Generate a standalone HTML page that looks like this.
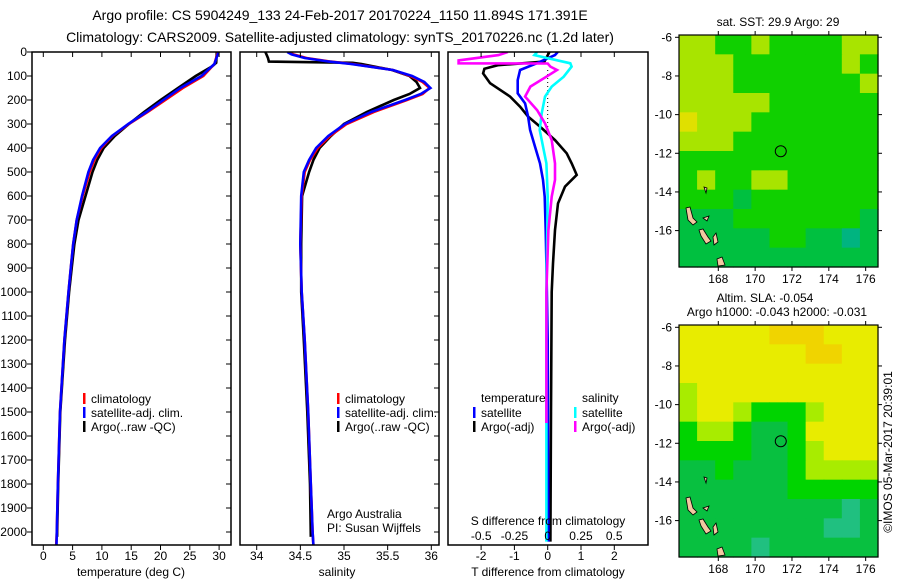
<!DOCTYPE html>
<html><head><meta charset="utf-8">
<style>
html,body{margin:0;padding:0;background:#fff;}
svg{display:block;font-family:"Liberation Sans",sans-serif;}
</style></head>
<body>
<svg id="fig" width="900" height="580" viewBox="0 0 900 580" xmlns="http://www.w3.org/2000/svg">
<defs>
<clipPath id="c1"><rect x="32" y="52" width="199" height="493"/></clipPath>
<clipPath id="c2"><rect x="240" y="52" width="199" height="493"/></clipPath>
<clipPath id="c3"><rect x="448" y="52" width="200" height="493"/></clipPath>
</defs>
<text x="340" y="20" font-size="14" text-anchor="middle">Argo profile: CS 5904249_133 24-Feb-2017 20170224_1150 11.894S 171.391E</text>
<text x="340" y="42" font-size="14" text-anchor="middle">Climatology: CARS2009. Satellite-adjusted climatology: synTS_20170226.nc (1.2d later)</text>
<g id="g1"></g>
<g id="g2"></g>
<g id="g3"></g>
<g id="m1"></g>
<g id="m2"></g>
<text transform="translate(892,452) rotate(-90)" font-size="12" text-anchor="middle">©IMOS 05-Mar-2017 20:39:01</text>
</svg>
<script>
// ---- profile data ----
const depthClimT = [0,50,100,150,200,250,300,350,400,450,500,600,700,800,900,1000,1200,1500,1800,2000,2055];
const climT = [29.8,29.2,27.3,23.8,20.8,17.8,14.6,11.8,9.9,8.7,7.9,6.7,5.7,5.1,4.7,4.3,3.6,2.85,2.5,2.3,2.2];
const satT = [29.9,29.2,27.0,23.4,20.5,17.6,14.5,11.7,9.7,8.5,7.7,6.6,5.7,5.1,4.7,4.3,3.6,2.85,2.5,2.3,2.25];
const depthArgoT = [0,45,60,100,150,200,250,300,350,400,450,500,600,700,800,900,1000,1200,1500,1800,2020];
const argoT = [29.6,29.5,28.8,26.0,23.0,20.0,17.2,14.6,12.2,10.3,9.2,8.4,7.2,6.0,5.3,4.85,4.4,3.7,2.9,2.55,2.35];
const depthClimS = [0,10,25,40,50,75,100,125,150,175,200,250,300,350,400,450,500,600,800,1000,1200,1500,1800,2000,2055];
const climS = [34.38,34.42,34.57,34.85,35.1,35.56,35.76,35.9,35.98,35.9,35.72,35.34,35.03,34.84,34.7,34.61,34.55,34.515,34.5,34.515,34.55,34.59,34.62,34.64,34.65];
const satS = [34.35,34.40,34.55,34.83,35.08,35.56,35.78,35.92,35.99,35.88,35.70,35.31,35.01,34.82,34.68,34.6,34.54,34.51,34.5,34.515,34.55,34.59,34.62,34.64,34.65];
const depthArgoS = [0,25,40,45,50,75,100,125,150,175,200,250,300,350,400,450,500,600,800,1000,1200,1500,1800,2020];
const argoS = [34.1,34.13,34.14,35.1,35.2,35.55,35.75,35.83,35.87,35.75,35.57,35.26,35.0,34.85,34.72,34.65,34.6,34.52,34.51,34.51,34.54,34.58,34.61,34.62];
const depthArgoDT = [0,40,55,70,89,130,186,228,269,311,367,422,464,512,561,631,742,881,1000,1500,2040];
const argoDT = [0.05,-0.1,-1.5,-1.9,-1.94,-1.73,-1.13,-0.83,-0.59,-0.23,0.22,0.57,0.72,0.87,0.52,0.31,0.22,0.16,0.12,0.1,0.08];
const depthSatDT = [0,13,47,75,117,172,214,269,325,394,464,533,603,742,881,1200,2040];
const satDT = [0.3,0.22,-0.33,-0.83,-0.9,-0.9,-0.68,-0.59,-0.53,-0.38,-0.23,-0.14,-0.09,-0.06,-0.04,0,0.02];
const depthSatDS = [0,13,47,61,103,144,186,256,325,464,603,1000,2040];
const satDS = [-0.08,-0.1,0.17,0.18,0.12,0.03,-0.02,-0.045,-0.06,-0.01,0,-0.01,-0.01];
const depthArgoDS = [0,13,35,47,48,61,75,103,144,186,242,297,367,464,533,603,742,1000,1546];
const argoDS = [-0.3,-0.37,-0.67,-0.67,0.0,0.02,0.07,-0.01,-0.13,-0.17,-0.08,-0.02,0.03,0.055,0.055,0.03,0.005,-0.01,-0.01];
const depthTicks = [0,100,200,300,400,500,600,700,800,900,1000,1100,1200,1300,1400,1500,1600,1700,1800,1900,2000];
const tTicks = [0,5,10,15,20,25,30];
const sTicks = [34,34.5,35,35.5,36];
const sTickLabels = ["34","34.5","35","35.5","36"];
const dTTicks = [-2,-1,0,1,2];
const dSTicks = [-0.5,-0.25,0,0.25,0.5];
const dSTickLabels = ["-0.5","-0.25","0","0.25","0.5"];
// ---- map data (colour class grid, rows top->bottom) ----
const sstGrid = [
[3,3,2,2,3,2,2,2,2,3,3],[3,3,3,2,2,2,2,2,2,3,2],[3,3,3,2,2,2,2,2,2,2,3],[3,3,3,3,3,2,2,2,2,2,2],
[4,3,3,3,2,2,2,2,2,2,2],[3,3,3,2,2,2,2,2,2,2,2],[2,2,2,2,2,2,2,2,2,2,2],[2,3,2,2,3,3,2,2,2,2,2],
[2,2,2,1,2,2,2,2,2,2,2],[1,1,1,2,2,2,2,2,2,2,1],[1,1,1,1,1,2,2,1,1,0,1],[1,1,1,1,1,1,1,1,1,1,1]];
const slaGrid = [
[4,4,4,4,4,5,5,5,4,4,4],[4,4,4,4,4,4,4,5,5,4,4],[4,4,4,4,4,4,4,4,4,4,4],[3,4,4,4,4,4,4,4,4,4,4],
[3,4,4,3,2,2,2,3,4,4,4],[2,3,3,2,1,1,2,4,4,4,4],[2,2,2,2,1,1,2,3,4,4,4],[1,1,2,1,1,1,2,3,3,3,3],
[1,1,1,1,1,1,2,2,2,2,2],[1,1,1,1,1,1,1,1,1,0,1],[1,1,1,1,1,1,1,1,0,0,1],[1,1,1,1,0,1,1,1,1,1,1]];
const lonTicks = [168,170,172,174,176];
const latTicks = [-6,-8,-10,-12,-14,-16];
const argoLon = 171.391, argoLat = -11.894;

const NS="http://www.w3.org/2000/svg";
function mk(parent,tag,attrs){const e=document.createElementNS(NS,tag);for(const k in attrs)e.setAttribute(k,attrs[k]);parent.appendChild(e);return e;}
const yD = d => 52 + d*0.24;
const xT = t => 43.3 + t*5.86;
const xS = s => 256.7 + (s-34)*87.3;
const xDT = v => 547.7 + v*33.3;
const xDS = v => 547.7 + v*133;

function line(g,depths,vals,fx,color,name,clip){
  const pts=depths.map((d,i)=>fx(vals[i]).toFixed(1)+","+yD(d).toFixed(1)).join(" ");
  const p=mk(g,"polyline",{points:pts,fill:"none",stroke:color,"stroke-width":2.6,"clip-path":"url(#"+clip+")"});
  
  
}
function frame(g,x0,x1,name){
  const r=mk(g,"rect",{x:x0,y:52,width:x1-x0,height:493,fill:"none",stroke:"#000","stroke-width":1.5});
  
  
}
function xticks(g,vals,labels,fx,ylab,name,top){
  vals.forEach((v,i)=>{const x=fx(v);
    mk(g,"line",{x1:x,y1:545,x2:x,y2:550,stroke:"#000"});
    if(top) mk(g,"line",{x1:x,y1:52,x2:x,y2:57,stroke:"#000"});
    const t=mk(g,"text",{x:x,y:ylab,"font-size":12,"text-anchor":"middle"});t.textContent=labels[i];
    
    
  });
}
function yticksRight(g,x1){depthTicks.forEach(d=>mk(g,"line",{x1:x1-5,y1:yD(d),x2:x1,y2:yD(d),stroke:"#000"}));}
function legendEntry(g,x,y,color,label){
  mk(g,"rect",{x:x,y:y-10,width:2.5,height:11,fill:color});
  const t=mk(g,"text",{x:x+8,y:y,"font-size":12});t.textContent=label;
  
  
}

// Panel 1
const g1=document.getElementById("g1");
line(g1,depthArgoT,argoT,xT,"#000","argo-temperature-line","c1");
line(g1,depthClimT,climT,xT,"#f00","climatology-temperature-line","c1");
line(g1,depthClimT,satT,xT,"#00f","satellite-temperature-line","c1");
frame(g1,32,231,"temperature-axes");
depthTicks.forEach(d=>{const y=yD(d);mk(g1,"line",{x1:27,y1:y,x2:32,y2:y,stroke:"#000"});
  const t=mk(g1,"text",{x:27,y:y+4,"font-size":12,"text-anchor":"end"});t.textContent=d;
  
  
});
yticksRight(g1,231);
xticks(g1,tTicks,tTicks.map(String),xT,560,"temperature-tick-label",true);
{const t=mk(g1,"text",{x:131,y:576,"font-size":12,"text-anchor":"middle"});t.textContent="temperature (deg C)";

}
legendEntry(g1,83,403,"#f00","climatology");
legendEntry(g1,83,417,"#00f","satellite-adj. clim.");
legendEntry(g1,83,431,"#000","Argo(..raw -QC)");

// Panel 2
const g2=document.getElementById("g2");
line(g2,depthArgoS,argoS,xS,"#000","argo-salinity-line","c2");
line(g2,depthClimS,climS,xS,"#f00","climatology-salinity-line","c2");
line(g2,depthClimS,satS,xS,"#00f","satellite-salinity-line","c2");
frame(g2,240,439,"salinity-axes");
yticksRight(g2,439);
xticks(g2,sTicks,sTickLabels,xS,560,"salinity-tick-label",true);
{const t=mk(g2,"text",{x:337,y:576,"font-size":12,"text-anchor":"middle"});t.textContent="salinity";

}
legendEntry(g2,337,403,"#f00","climatology");
legendEntry(g2,337,417,"#00f","satellite-adj. clim.");
legendEntry(g2,337,431,"#000","Argo(..raw -QC)");
{const t=mk(g2,"text",{x:327,y:518,"font-size":12});t.textContent="Argo Australia";

const t2=mk(g2,"text",{x:327,y:532,"font-size":12});t2.textContent="PI: Susan Wijffels";
}

// Panel 3
const g3=document.getElementById("g3");
mk(g3,"line",{x1:547.7,y1:70,x2:547.7,y2:130,stroke:"#000","stroke-dasharray":"1,3"});
line(g3,depthArgoDT,argoDT,xDT,"#000","argo-temperature-diff-line","c3");
line(g3,depthSatDT,satDT,xDT,"#00f","satellite-temperature-diff-line","c3");
line(g3,depthSatDS,satDS,xDS,"#0ff","satellite-salinity-diff-line","c3");
line(g3,depthArgoDS,argoDS,xDS,"#f0f","argo-salinity-diff-line","c3");
frame(g3,448,648,"difference-axes");
xticks(g3,dTTicks,dTTicks.map(String),xDT,560,"t-diff-tick-label",true);
dSTicks.forEach((v,i)=>{const t=mk(g3,"text",{x:xDS(v),y:540,"font-size":12,"text-anchor":"middle"});t.textContent=dSTickLabels[i];
  
  });
{const t=mk(g3,"text",{x:548,y:525,"font-size":12,"text-anchor":"middle"});t.textContent="S difference from climatology";

const t2=mk(g3,"text",{x:548,y:576,"font-size":12,"text-anchor":"middle"});t2.textContent="T difference from climatology";

const t3=mk(g3,"text",{x:481,y:402,"font-size":12});t3.textContent="temperature";

const t4=mk(g3,"text",{x:582,y:402,"font-size":12});t4.textContent="salinity";
}
legendEntry(g3,473,417,"#00f","satellite");
legendEntry(g3,473,431,"#000","Argo(-adj)");
legendEntry(g3,574,417,"#0ff","satellite");
legendEntry(g3,574,431,"#f0f","Argo(-adj)");

// Maps
const sstColors=["#00b480","#00c040","#10d000","#a8e400","#e0e000"];
const slaColors=["#20c080","#08c040","#00d400","#a8ec00","#e8ec00","#f0d400"];
const xLon = lon => 718.3 + (lon-168)*18.42;
function drawMap(id,grid,colors,top,titleLines){
  const g=document.getElementById(id);
  const yLat = lat => top+2.3 + (-6-lat)*19.33;
  const x0=679,x1=878,y0=top,y1=top+232;
  const rows=grid.length, cols=grid[0].length;
  const cw=(x1-x0)/cols, ch=(y1-y0)/rows;
  grid.forEach((row,r)=>row.forEach((v,c)=>{
    const cell=mk(g,"rect",{x:x0+c*cw,y:y0+r*ch,width:cw+0.6,height:ch+0.6,fill:colors[v]});
    
    
  }));
  const isl=[[[686,y0+173],[690,y0+172],[693,y0+183],[697,y0+187],[693,y0+190],[688,y0+185]],
    [[699,y0+195],[703,y0+194],[708,y0+202],[711,y0+206],[706,y0+209],[701,y0+201]],
    [[716,y0+198],[718,y0+207],[714,y0+210],[713,y0+202]],
    [[717,y0+224],[722,y0+222],[725,y0+230],[718,y0+231]],
    [[703,y0+183],[709,y0+181],[707,y0+186]],[[704,y0+152],[707,y0+153],[706,y0+158]]];
  isl.forEach(p=>{const e=mk(g,"polygon",{points:p.map(q=>q.join(",")).join(" "),fill:"#f2c8a0",stroke:"#000","stroke-width":0.8});
    });
  const c=mk(g,"circle",{cx:xLon(argoLon),cy:yLat(argoLat),r:5.5,fill:"none",stroke:"#000","stroke-width":1});
  
  const fr=mk(g,"rect",{x:x0,y:y0,width:x1-x0,height:y1-y0,fill:"none",stroke:"#000","stroke-width":1.2});
  
  lonTicks.forEach(l=>{const x=xLon(l);mk(g,"line",{x1:x,y1:y0,x2:x,y2:y0-4,stroke:"#000"});mk(g,"line",{x1:x,y1:y1,x2:x,y2:y1+4,stroke:"#000"});
    const t=mk(g,"text",{x:x,y:y1+16,"font-size":12,"text-anchor":"middle"});t.textContent=l;
    });
  latTicks.forEach(l=>{const y=yLat(l);mk(g,"line",{x1:x0,y1:y,x2:x0-4,y2:y,stroke:"#000"});mk(g,"line",{x1:x1,y1:y,x2:x1+4,y2:y,stroke:"#000"});
    const t=mk(g,"text",{x:672,y:y+4,"font-size":12,"text-anchor":"end"});t.textContent=l;
    });
  titleLines.forEach((s,i)=>{const t=mk(g,"text",{x:s[1],y:s[2],"font-size":12,"text-anchor":"middle"});t.textContent=s[0];
    });
}
drawMap("m1",sstGrid,sstColors,35,[["sat. SST: 29.9 Argo: 29",778,26]]);
drawMap("m2",slaGrid,slaColors,325,[["Altim. SLA: -0.054",765,302],["Argo h1000: -0.043 h2000: -0.031",777,316]]);
</script>
</body></html>
